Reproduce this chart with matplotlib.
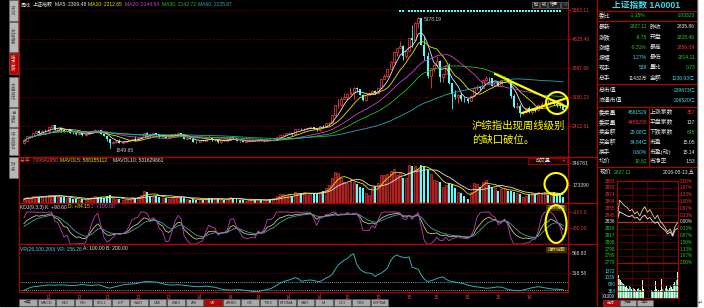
import numpy as np
import pandas as pd
import matplotlib
matplotlib.use("Agg")
import matplotlib.pyplot as plt
from matplotlib.patches import Rectangle, Ellipse
from matplotlib import transforms

plt.rcParams["font.family"] = ["Liberation Sans", "Noto Sans CJK SC", "DejaVu Sans"]

W, H = 704, 308

# ---- weekly candles, Shanghai Composite ----
first_open = 1980
closes = [
    2033, 2150, 2153, 2233, 2276, 2243, 2284, 2291, 2385, 2432,
    2314, 2359, 2318, 2278, 2328, 2237, 2225, 2206, 2245, 2177,
    2205, 2247, 2283, 2302, 2301, 2211, 2162, 2073, 1979, 2007,
    2040, 1992, 2010, 2029, 2052, 2085, 2058, 2098, 2140, 2236,
    2191, 2160, 2228, 2194, 2133, 2149, 2106, 2135, 2197, 2220,
    2238, 2196, 2085, 2101, 2083, 2013, 2004, 2054, 2033, 2115,
    2113, 2056, 2057, 2004, 2047, 2042, 2058, 2130, 2098, 2036,
    2026, 2011, 2026, 2035, 2039, 2029, 2070, 2025, 2036, 2059,
    2047, 2059, 2126, 2185, 2194, 2226, 2240, 2217, 2326, 2331,
    2329, 2347, 2364, 2382, 2341, 2302, 2420, 2418, 2478, 2487,
    2683, 2938, 2938, 3108, 3157, 3235, 3285, 3376, 3351, 3210,
    3076, 3204, 3247, 3310, 3241, 3373, 3617, 3691, 3863, 4034,
    4287, 4393, 4441, 4205, 4308, 4657, 4611, 5023, 5166, 4478,
    4192, 3686, 3877, 3957, 4070, 3663, 3744, 3965, 3507, 3232,
    3160, 3200, 3097, 3092, 3053, 3183, 3391, 3412, 3383, 3590,
    3632, 3630, 3436, 3524, 3434, 3578, 3627, 3539, 3186, 2901,
    2916, 2737, 2763, 2860, 2767, 2874, 2810, 2955, 2979, 3009,
    2985, 3078, 2960, 2938, 2913, 2827,
]
highs = [
    2040, 2160, 2178, 2240, 2290, 2300, 2300, 2330, 2390, 2444,
    2430, 2380, 2375, 2330, 2335, 2335, 2260, 2240, 2250, 2250,
    2215, 2255, 2290, 2335, 2320, 2305, 2220, 2165, 2085, 2030,
    2055, 2070, 2030, 2035, 2060, 2100, 2150, 2105, 2150, 2240,
    2270, 2200, 2240, 2242, 2200, 2160, 2155, 2140, 2205, 2245,
    2260, 2240, 2200, 2120, 2110, 2090, 2030, 2060, 2060, 2120,
    2160, 2115, 2070, 2060, 2060, 2060, 2080, 2145, 2135, 2100,
    2040, 2035, 2040, 2045, 2050, 2050, 2075, 2075, 2050, 2070,
    2075, 2070, 2130, 2190, 2215, 2235, 2250, 2245, 2330, 2345,
    2350, 2355, 2370, 2390, 2390, 2350, 2425, 2440, 2485, 2510,
    2690, 2940, 3090, 3140, 3240, 3240, 3400, 3405, 3406, 3360,
    3225, 3210, 3260, 3330, 3330, 3380, 3620, 3730, 3870, 4060,
    4320, 4400, 4575, 4480, 4320, 4660, 4990, 5051, 5178.19, 5170,
    4680, 4300, 3880, 3995, 4185, 4080, 3770, 3975, 4005, 3500,
    3320, 3220, 3250, 3150, 3100, 3200, 3400, 3460, 3430, 3600,
    3680, 3650, 3640, 3560, 3530, 3580, 3685, 3640, 3540, 3230,
    3020, 2960, 2800, 2870, 2930, 2880, 2900, 2960, 3020, 3010,
    3080, 3090, 3090, 2980, 3000, 2940,
]
lows = [
    1960, 2025, 2130, 2150, 2225, 2230, 2215, 2270, 2285, 2370,
    2300, 2280, 2270, 2260, 2250, 2230, 2200, 2190, 2180, 2165,
    2165, 2200, 2240, 2280, 2275, 2200, 2150, 2040, 1849.65, 1960,
    1970, 1985, 1970, 1995, 2020, 2045, 2040, 2050, 2090, 2135,
    2180, 2145, 2160, 2180, 2120, 2115, 2100, 2085, 2130, 2185,
    2210, 2190, 2080, 2065, 2070, 2005, 1985, 2000, 2025, 2030,
    2100, 2040, 2030, 1975, 1990, 2030, 2030, 2055, 2090, 2030,
    2015, 1995, 2000, 2015, 2025, 2020, 2025, 2020, 2015, 2030,
    2040, 2040, 2055, 2120, 2165, 2190, 2200, 2195, 2215, 2305,
    2310, 2290, 2335, 2355, 2330, 2295, 2295, 2395, 2410, 2450,
    2480, 2675, 2880, 2920, 3090, 3080, 3230, 3095, 3290, 3200,
    3050, 3050, 3190, 3230, 3230, 3230, 3370, 3600, 3650, 3850,
    4020, 4200, 4390, 4100, 4150, 4290, 4420, 4600, 4900, 4470,
    4100, 3630, 3373, 3790, 3940, 3540, 3520, 3740, 3480, 2850,
    3090, 3010, 3060, 3020, 3010, 3050, 3180, 3330, 3320, 3370,
    3560, 3560, 3420, 3430, 3420, 3430, 3570, 3520, 3115, 2870,
    2840, 2638, 2700, 2740, 2740, 2730, 2760, 2790, 2930, 2940,
    2970, 2980, 2940, 2900, 2880, 2810,
]
volumes_k = [
    62, 75, 70, 85, 90, 80, 88, 78, 92, 98,
    90, 85, 82, 75, 72, 70, 62, 60, 58, 65,
    55, 68, 75, 88, 82, 78, 72, 85, 92, 70,
    65, 62, 55, 58, 65, 75, 72, 80, 95, 125,
    118, 85, 90, 88, 78, 70, 72, 65, 82, 88,
    85, 75, 72, 60, 58, 62, 56, 60, 52, 68,
    72, 70, 65, 60, 62, 58, 62, 80, 70, 62,
    55, 52, 50, 54, 58, 56, 60, 55, 52, 58,
    62, 68, 85, 100, 105, 95, 102, 90, 118, 112,
    108, 115, 98, 110, 112, 105, 120, 130, 150, 170,
    230, 275, 265, 230, 200, 190, 220, 200, 185, 160,
    150, 110, 95, 160, 165, 190, 250, 255, 260, 280,
    300, 255, 270, 230, 225, 330, 320, 320, 300, 330,
    325, 295, 260, 215, 205, 200, 155, 175, 190, 180,
    150, 120, 110, 85, 60, 120, 190, 185, 160, 200,
    210, 170, 160, 150, 130, 145, 140, 125, 130, 120,
    110, 105, 75, 90, 105, 110, 100, 115, 110, 120,
    95, 120, 115, 95, 95, 80,
]
# VR(26,100,200) line, read week by week off the lowest panel
vr_values = [
    100, 120, 135, 147, 150, 155, 160, 165, 168, 168,
    165, 168, 170, 168, 165, 162, 160, 165, 170, 175,
    170, 165, 160, 168, 170, 165, 150, 135, 130, 140,
    150, 160, 170, 175, 178, 180, 185, 190, 200, 210,
    212, 210, 208, 205, 195, 185, 175, 170, 168, 170,
    172, 170, 165, 160, 155, 150, 148, 147, 150, 155,
    150, 145, 140, 130, 118, 110, 108, 105, 106, 108,
    110, 106, 100, 95, 90, 85, 88, 95, 105, 115,
    120, 140, 165, 190, 205, 220, 230, 245, 260, 250,
    215, 220, 228, 231, 225, 215, 210, 230, 255, 270,
    300, 360, 420, 450, 480, 500, 540, 560, 430, 370,
    340, 320, 318, 310, 275, 300, 318, 345, 380, 470,
    520, 545, 525, 515, 508, 520, 390, 378, 365, 290,
    240, 212, 220, 232, 250, 262, 270, 240, 220, 212,
    205, 198, 190, 182, 168, 160, 150, 145, 140, 135,
    128, 130, 135, 140, 145, 140, 130, 115, 106, 100,
    98, 97, 105, 115, 125, 135, 142, 147, 140, 132,
    127, 122, 115, 118, 112, 110,
]
year_tick_weeks = [8, 18, 27, 37, 47, 57, 67, 76, 86, 96, 105, 115, 125, 134, 144, 154, 164]
year_tick_labels = ["13"] * 5 + ["14"] * 5 + ["15"] * 6 + ["16"]
info_weeks = [122, 123] + list(range(125, 175))

ma_periods = [5, 10, 20, 30, 60]
ma_colors = ["#e8e8e8", "#e8e800", "#d040d0", "#20c020", "#2aa8b0"]
ma_values = ["2309.48", "2212.65", "2144.54", "2142.72", "2235.87"]

# ---- intraday (2016-05-13) ----
prev_close = 2835.86
intraday_price = [2836, 2866, 2862, 2858, 2856, 2851, 2853, 2847, 2850, 2844, 2852, 2857, 2849,
                  2853, 2846, 2840, 2845, 2837, 2833, 2828, 2822, 2826, 2818, 2830, 2835]
intraday_avg = [2836, 2850, 2848, 2846, 2844, 2843, 2845, 2841, 2842, 2838, 2843, 2845, 2840,
                2842, 2837, 2834, 2836, 2830, 2827, 2824, 2819, 2822, 2816, 2825, 2827]
intraday_vol = [1300, 1150, 980, 900, 820, 760, 700, 650, 560, 600,
                520, 480, 600, 550, 470, 430, 500, 450, 420, 380,
                460, 520, 430, 400, 360, 900, 450, 380, 350, 420,
                380, 500, 950, 420, 360, 330, 400, 880, 450, 380,
                420, 360, 390, 980, 460, 400, 380, 520, 600, 450,
                420, 500, 640, 560, 480, 700, 820, 650, 900, 1350]
intraday_vol_up = [1, 1, 0, 1, 0, 0, 1, 0, 1, 1, 0, 1, 0, 0, 1, 1, 0, 1, 0, 1,
                   1, 0, 0, 1, 0, 1, 1, 0, 0, 1, 0, 1, 1, 0, 1, 0, 0, 1, 1, 0,
                   1, 0, 1, 1, 0, 0, 1, 0, 1, 0, 0, 1, 0, 1, 1, 0, 1, 0, 0, 1]

# ---- colours ----
UP = "#ff3c3c"
DOWN = "#54ffff"
GRID = "#6e0000"
BORDER = "#b00000"
LBL_RED = "#e03c3c"
GREEN = "#20d020"
CYAN = "#40d8e8"
WHITE = "#e6e6e6"
YEL = "#ffff00"
SMALL = 3.6

df = pd.DataFrame({"close": closes, "high": highs, "low": lows,
                   "vol": np.array(volumes_k) * 1000.0})
df["open"] = [first_open] + closes[:-1]
n = len(df)
xw = np.arange(n)
is_up = (df["close"] >= df["open"]).to_numpy()

fig = plt.figure(figsize=(W / 100, H / 100), dpi=100, facecolor="white")
bg = fig.add_axes([0, 0, 1, 1], zorder=0)
bg.set_xlim(0, W)
bg.set_ylim(H, 0)
bg.axis("off")
bg.add_patch(Rectangle((0, 0), 697, 306, color="black"))

ov = fig.add_axes([0, 0, 1, 1], zorder=20)
ov.set_xlim(0, W)
ov.set_ylim(H, 0)
ov.axis("off")
ov.patch.set_alpha(0)


def px_axes(x0, y0, x1, y1):
    ax = fig.add_axes([x0 / W, 1 - y1 / H, (x1 - x0) / W, (y1 - y0) / H], zorder=5)
    ax.set_facecolor("black")
    for s in ax.spines.values():
        s.set_color(BORDER)
        s.set_linewidth(0.8)
    ax.tick_params(length=0, labelsize=SMALL)
    return ax


def fit_ylim(ax, v_a, y_a, v_b, y_b, y_top, y_bot):
    # map two labelled values at pixel rows onto the axis limits
    per_px = (v_a - v_b) / (y_b - y_a)
    ax.set_ylim(v_b - (y_bot - y_b) * per_px, v_a + (y_a - y_top) * per_px)


def right_labels(ax, ticks, labels, color):
    ax.yaxis.tick_right()
    ax.set_yticks(ticks)
    ax.set_yticklabels(labels, color=color, fontsize=SMALL)
    ax.tick_params(axis="y", length=2, color=BORDER, pad=1)
    ax.grid(axis="y", color=GRID, linestyle=(0, (2, 2)), linewidth=0.6)


XL = (-1.6, n + 0.6)

# ---- main price panel ----
ax = px_axes(19, 0, 568, 157)
ax.set_xlim(*XL)
ax.set_xticks([])
fit_ylim(ax, 5363.11, 10, 2412.61, 126, 0, 157)
right_labels(ax, [5363.11, 4625.40, 3887.66, 3150.23, 2412.61],
             ["5363.11", "4625.40", "3887.66", "3150.23", "2412.61"], LBL_RED)
ax.spines["top"].set_visible(False)
cols = np.where(is_up, UP, DOWN)
ax.vlines(xw, df["low"], df["high"], colors=cols, linewidth=0.6, zorder=2)
body_lo = np.minimum(df["open"], df["close"])
body_h = np.maximum(np.abs(df["close"] - df["open"]), 4)
ax.bar(xw[is_up], body_h[is_up], bottom=body_lo[is_up], width=0.64,
       facecolor="black", edgecolor=UP, linewidth=0.5, zorder=3)
ax.bar(xw[~is_up], body_h[~is_up], bottom=body_lo[~is_up], width=0.64,
       color=DOWN, linewidth=0, zorder=3)
for p, c in zip(ma_periods, ma_colors):
    ax.plot(xw, df["close"].rolling(p, min_periods=1).mean(), color=c, lw=0.6, zorder=4)
tr = transforms.blended_transform_factory(ax.transData, ax.transAxes)
ax.scatter(info_weeks, [1 - 10.5 / 157] * len(info_weeks), s=1.6, marker="s",
           color=DOWN, transform=tr, zorder=5, linewidths=0)
ih, il = int(df["high"].idxmax()), int(df["low"].idxmin())
ax.annotate(f"{df['high'][ih]:.2f}", (ih, df["high"][ih]), xytext=(4, -1.5),
            textcoords="offset points", color="#c8c8c8", fontsize=SMALL, va="center",
            arrowprops=dict(arrowstyle="-", color="#c8c8c8", lw=0.5))
ax.annotate(f"{df['low'][il]:.2f}", (il, df["low"][il]), xytext=(4, -2),
            textcoords="offset points", color="#c8c8c8", fontsize=SMALL, va="center",
            arrowprops=dict(arrowstyle="-", color="#c8c8c8", lw=0.5))

# ---- volume panel ----
av = px_axes(19, 157, 568, 203)
av.set_xlim(*XL)
av.set_xticks([])
fit_ylim(av, 346781, 163, 173390, 185, 157, 203)
right_labels(av, [346781, 173390], ["346781", "173390"], "#d0d0d0")
av.bar(xw[is_up], df["vol"][is_up], width=0.64, facecolor="#701010",
       edgecolor=UP, linewidth=0.4, zorder=3)
av.bar(xw[~is_up], df["vol"][~is_up], width=0.64, color=DOWN, linewidth=0, zorder=3)
av.plot(xw, df["vol"].rolling(5, min_periods=1).mean(), color="#e8e800", lw=0.6, zorder=4)
av.plot(xw, df["vol"].rolling(10, min_periods=1).mean(), color="#e0e0e0", lw=0.6, zorder=4)

# ---- KDJ(9,3,3) ----
llv = df["low"].rolling(9, min_periods=1).min()
hhv = df["high"].rolling(9, min_periods=1).max()
rsv = ((df["close"] - llv) / (hhv - llv) * 100).fillna(50)
k_vals, d_vals = [], []
k_prev, d_prev = 50.0, 50.0
for r in rsv:
    k_prev = 2 / 3 * k_prev + r / 3
    d_prev = 2 / 3 * d_prev + k_prev / 3
    k_vals.append(k_prev)
    d_vals.append(d_prev)
k_arr, d_arr = np.array(k_vals), np.array(d_vals)
j_arr = np.clip(3 * k_arr - 2 * d_arr, 0, 100)
ak = px_axes(19, 203, 568, 244)
ak.set_xlim(*XL)
ak.set_xticks([])
ak.set_ylim(0, 128.1)
right_labels(ak, [100, 50], ["+100.0", "+50.00"], LBL_RED)
ak.plot(xw, k_arr, color="#c8c878", lw=0.6)
ak.plot(xw, d_arr, color="#30a8a8", lw=0.6)
ak.plot(xw, j_arr, color="#c040c0", lw=0.6)

# ---- VR(26,100,200) ----
avr = px_axes(19, 244, 568, 292)
avr.set_xlim(*XL)
fit_ylim(avr, 568.83, 253, 318.58, 273, 244, 292)
right_labels(avr, [568.83, 318.58], ["568.83", "318.58"], "#d0d0d0")
avr.axhline(100, color="#c8c8c8", lw=0.6, linestyle=(0, (1, 1.5)))
avr.axhline(200, color="#c8c8c8", lw=0.6, linestyle=(0, (1, 1.5)))
avr.plot(xw, vr_values, color="#30b0b8", lw=0.7)
avr.set_xticks(year_tick_weeks)
avr.set_xticklabels(year_tick_labels, color=LBL_RED, fontsize=SMALL)
avr.tick_params(axis="x", length=1.5, color=BORDER, pad=0.8)


# ---- panel titles ----
def run_text(y, parts, size=SMALL):
    for x, s, c in parts:
        ov.text(x, y, s, color=c, fontsize=size, va="center", ha="left")


run_text(5, [(21, "周线", WHITE), (33, "上证指数", WHITE)] +
         [(x, f"MA{p}: {v}", c) for x, p, v, c in
          zip([55, 88, 125, 162, 198], ma_periods, ma_values, ma_colors)])
run_text(161, [(20, "总手: 700642650", "#ff5050"), (60, "MAVOL5: 588155112", "#e8e800"),
               (113, "MAVOL10: 531629661", WHITE)])
run_text(207, [(20, "KDJ(9,3,3) K: +90.60", WHITE), (68, "D: +84.15", "#e8e800"),
               (91, "J: +100.00", "#d050d0")])
run_text(249, [(20, "VR(26,100,200) VR: 156.26", CYAN), (83, "A: 100.00 B: 200.00", WHITE)])

# panel borders across the label column
for y in (157, 203, 244):
    ov.plot([19, 597], [y, y], color=BORDER, lw=0.9)
ov.plot([597, 597], [0, 306], color=BORDER, lw=0.9)

# buttons
ov.add_patch(Rectangle((528, 157.8), 39, 6.5, facecolor="#1a0000", edgecolor=BORDER, lw=0.6))
ov.text(543, 161.2, "成交量", color=WHITE, fontsize=SMALL, ha="center", va="center")
ov.text(563, 161.2, "▼", color="#ff3030", fontsize=2.8, ha="center", va="center")
for y in (207.5, 249.5):
    ov.add_patch(Rectangle((546, y - 3), 21, 6, facecolor="#3a3000", lw=0))
    ov.text(556.5, y, "指标说明", color="#e8e060", fontsize=3.2, ha="center", va="center")
for x0, w, s in [(532, 7, "加"), (540, 7, "钱"), (548, 12, "信息"), (561, 7, "⊣")]:
    ov.add_patch(Rectangle((x0, 1.5), w, 6, facecolor="#202020", edgecolor="#808080", lw=0.4))
    ov.text(x0 + w / 2, 4.5, s, color=WHITE, fontsize=3, ha="center", va="center")

# yellow annotation
ov.plot([495, 567], [74, 107], color=YEL, lw=1.5)
ov.plot([522, 567], [113, 98], color=YEL, lw=1.5)
for cx, cy, w, h in [(557, 103, 22, 22), (556, 184, 23, 22), (556, 224, 21, 38)]:
    ov.add_patch(Ellipse((cx, cy), w, h, fill=False, edgecolor=YEL, lw=1.5))
ov.text(472, 126, "沪综指出现周线级别", color=YEL, fontsize=7.5, va="center", ha="left",
        family=["Noto Sans CJK SC"])
ov.text(472, 140, "的缺口破位。", color=YEL, fontsize=7.5, va="center", ha="left",
        family=["Noto Sans CJK SC"])

# ---- left sidebar ----
side_tabs = [(0, 21, "资讯", False), (22, 52, "分时走势", False), (53, 74, "技术分析", True),
             (77, 107, "大盘资讯", False), (108, 127, "自选股", False),
             (128, 155, "综合排名", False), (157, 178, "财务", False)]
for y0, y1, s, active in side_tabs:
    ov.add_patch(Rectangle((8.5, y0), 9.5, y1 - y0, facecolor="#c00000" if active else "#b8b8b8",
                           edgecolor="#707070", lw=0.4))
    ov.text(13.2, (y0 + y1) / 2, "\n".join(s), color=WHITE if active else "#505050",
            fontsize=3.2, ha="center", va="center", linespacing=1.0)

# ---- bottom indicator tabs ----
tab_names = ["分类", "MACD", "KDJ", "RSI", "BOLL", "E.P", "W&R", "DMI", "BIAS", "ASI",
             "VR", "ARBR", "CR", "TRIX", "BTOMA", "SAR", "M", "CCI", "OBV", "EXPMA"]
for i, s in enumerate(tab_names):
    x0 = 19 + i * 18.5
    ov.add_patch(Rectangle((x0, 299), 17.5, 7, facecolor="#c00000" if s == "VR" else "#a8a8a8",
                           edgecolor="#606060", lw=0.4))
    ov.text(x0 + 8.75, 302.5, s, color=WHITE if s == "VR" else "#303030", fontsize=2.8,
            ha="center", va="center")

# ---- right info panel ----
ov.text(646, 5.5, "上证指数 1A0001", color=CYAN, fontsize=6.3, ha="center", va="center",
        fontweight="bold")
for y in (10.5, 21, 84, 106.5, 166.7):
    ov.plot([597, 697], [y, y], color=BORDER, lw=0.8)
ov.plot([648.5, 648.5], [106.5, 166.7], color=BORDER, lw=0.8)
ov.plot([697, 697], [0, 306], color="#808080", lw=0.6)

LBL = 4.2
ov.text(599, 15.8, "委比", color=WHITE, fontsize=LBL, va="center")
ov.text(645, 15.8, "-1.15%", color=GREEN, fontsize=SMALL, va="center", ha="right")
ov.text(695, 15.8, "-103320", color=GREEN, fontsize=SMALL, va="center", ha="right")
quote_rows = [
    (27, "最新", "2827.11", GREEN, "昨收", "2835.86", WHITE),
    (37.2, "涨跌", "-8.75", GREEN, "开盘", "2828.46", GREEN),
    (47.4, "涨幅", "-0.31%", GREEN, "最高", "2850.09", "#ff3030"),
    (57.6, "振幅", "1.27%", CYAN, "最低", "2814.11", GREEN),
    (67.8, "现手", "539", CYAN, "量比", "0.73", GREEN),
    (78, "总手", "11432万", WHITE, "金额", "1236.93亿", CYAN),
    (112.7, "委卖量", "4561529", CYAN, "上涨家数", "357", "#ff3030"),
    (122.5, "委买量", "4458208", "#ff3030", "平盘家数", "137", WHITE),
    (132.3, "卖金额", "29.88亿", CYAN, "下跌家数", "645", GREEN),
    (142.3, "买金额", "34.84亿", CYAN, "市盈", "15.05", WHITE),
    (152.3, "换手", "0.60%", CYAN, "市盈(动)", "15.14", WHITE),
    (161.5, "均价", "10.82", GREEN, "市净率", "1.53", WHITE),
]
for y, l1, v1, c1, l2, v2, c2 in quote_rows:
    ov.text(599, y, l1, color=WHITE, fontsize=LBL, va="center")
    ov.text(647, y, v1, color=c1, fontsize=SMALL, va="center", ha="right")
    ov.text(650, y, l2, color=WHITE, fontsize=LBL, va="center")
    ov.text(695, y, v2, color=c2, fontsize=SMALL, va="center", ha="right")
for y, l, v in [(90, "总市值", "239673亿"), (100.5, "流通市值", "206520亿")]:
    ov.text(599, y, l, color=WHITE, fontsize=LBL, va="center")
    ov.text(695, y, v, color=CYAN, fontsize=SMALL, va="center", ha="right")
ov.text(600, 172, "现价", color=WHITE, fontsize=LBL, va="center")
ov.text(614, 172, "2827.11", color=GREEN, fontsize=SMALL, va="center")
ov.text(695, 172, "2016-05-13,五", color=WHITE, fontsize=SMALL, va="center", ha="right")

# ---- intraday chart ----
ai = px_axes(617, 181, 678, 262.7)
ai.set_xlim(0, 241)
levels = [prev_close * (1 + k / 300) for k in range(-6, 7)]
ai.set_ylim(levels[0], levels[-1])
ai.set_xticks([])
ai.set_yticks([])
for k, lv in zip(range(-6, 7), levels):
    ai.axhline(lv, color="#c03030" if k == 0 else "#700000", lw=0.9 if k == 0 else 0.5)
for xm in (60, 120, 180):
    ai.axvline(xm, color="#700000", lw=0.5)
mins = np.linspace(0, 240, len(intraday_price))
ai.plot(mins, intraday_price, color="#d8d890", lw=0.6)
ai.plot(mins, intraday_avg, color="#e8e8e8", lw=0.6)
bt = transforms.blended_transform_factory(ai.transAxes, ai.transData)
for k, lv in zip(range(-6, 7), levels):
    c = "#ff3030" if k > 0 else (WHITE if k == 0 else GREEN)
    ai.text(-0.03, lv, f"{lv:.0f}", color=c, fontsize=3.3, ha="right", va="center", transform=bt)
    ai.text(1.03, lv, f"{abs(k) / 3:.2f}%", color=c, fontsize=3.3, ha="left", va="center",
            transform=bt)

aiv = px_axes(617, 262.7, 678, 298)
aiv.set_xlim(0, len(intraday_vol))
aiv.set_ylim(0, 1800)
aiv.set_xticks([])
aiv.set_yticks([])
for lv in (353, 686, 1039, 1372):
    aiv.axhline(lv, color="#700000", lw=0.5)
for xm in (15, 30, 45):
    aiv.axvline(xm, color="#700000", lw=0.5)
vcols = ["#ffffb0" if u else "#40e0e0" for u in intraday_vol_up]
aiv.bar(np.arange(len(intraday_vol)) + 0.5, intraday_vol, width=0.9, color=vcols, linewidth=0)
bt2 = transforms.blended_transform_factory(aiv.transAxes, aiv.transData)
for lv in (353, 686, 1039, 1372):
    aiv.text(-0.03, lv, str(lv), color=CYAN, fontsize=3.3, ha="right", va="center", transform=bt2)
ov.text(615, 296.5, "X1000", color=WHITE, fontsize=3.3, ha="right", va="center")

for i, s in enumerate(["分时", "资金", "筹码"]):
    x0 = 603 + i * 17
    ov.add_patch(Rectangle((x0, 299.5), 16, 6, facecolor="#c00000" if i == 0 else "#a8a8a8",
                           edgecolor="#606060", lw=0.4))
    ov.text(x0 + 8, 302.5, s, color=WHITE if i == 0 else "#303030", fontsize=2.8,
            ha="center", va="center")
ov.text(700, 303, "↵", color="#404040", fontsize=4, ha="center", va="center")

fig.savefig("out.png", dpi=100, facecolor="white")
